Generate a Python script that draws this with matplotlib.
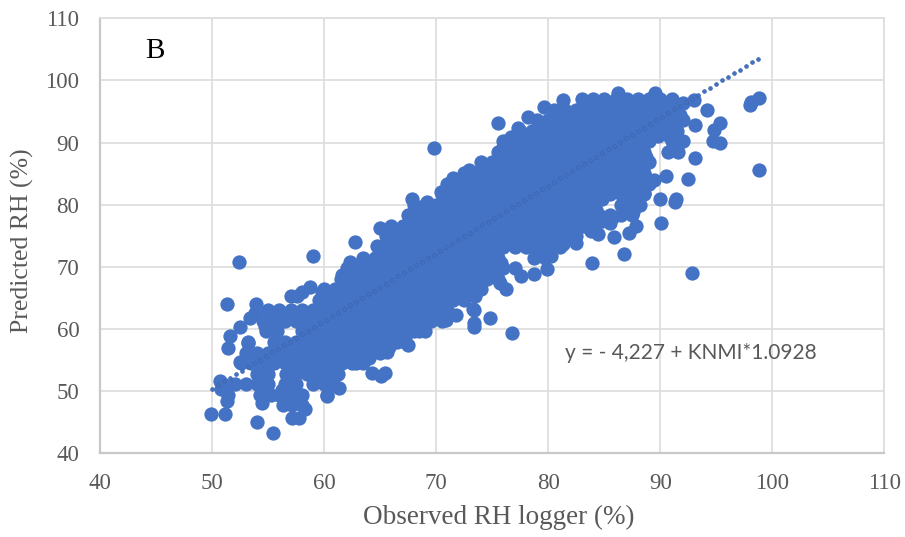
import numpy as np
import matplotlib
matplotlib.use("Agg")
import matplotlib.pyplot as plt

BLUE = "#4472C4"

x_ticks = [40, 50, 60, 70, 80, 90, 100, 110]
y_ticks = [40, 50, 60, 70, 80, 90, 100, 110]

row_pred = [97.0, 95.3, 93.6, 91.9, 90.2, 88.5, 86.8, 85.1, 83.4, 81.7, 80.0, 78.3, 76.6, 74.9, 73.2,
            71.5, 69.8, 68.1, 66.4, 64.7, 63.0, 61.3, 59.6, 57.9, 56.2, 54.5, 52.8, 51.1, 49.4, 47.7]
row_obs = [
    [83, 84, 85, 86, 87, 88, 89, 90, 91],
    [80.5, 81.5, 82.5, 83.5, 84.5, 85.5, 86.5, 87.5, 88.5, 89.5, 90.5, 91.5],
    [79, 80, 81, 82, 83, 84, 85, 86, 87, 88, 89, 90, 91, 92],
    [77.5, 78.5, 79.5, 80.5, 81.5, 82.5, 83.5, 84.5, 85.5, 86.5, 87.5, 88.5, 89.5, 90.5, 91.5],
    [76, 77, 78, 79, 80, 81, 82, 83, 84, 85, 86, 87, 88, 89, 91, 92],
    [75.5, 76.5, 77.5, 78.5, 79.5, 80.5, 81.5, 82.5, 83.5, 84.5, 85.5, 86.5, 87.5, 88.5, 90.7, 91.6],
    [74, 75, 76, 77, 78, 79, 80, 81, 82, 83, 84, 85, 86, 87, 88, 89],
    [72.5, 73.5, 74.5, 75.5, 76.5, 77.5, 78.5, 79.5, 80.5, 81.5, 82.5, 83.5, 84.5, 85.5, 86.5, 87.5, 88.5],
    [71, 72, 73, 74, 75, 76, 77, 78, 79, 80, 81, 82, 83, 84, 85, 86, 87, 88, 89],
    [70.5, 71.5, 72.5, 73.5, 74.5, 75.5, 76.5, 77.5, 78.5, 79.5, 80.5, 81.5, 82.5, 83.5, 84.5, 85.5, 86.5, 87.5, 88.5],
    [68, 69, 70, 71, 72, 73, 74, 75, 76, 77, 78, 79, 80, 81, 82, 83, 84, 86.5, 87.5, 88.2],
    [67.5, 68.5, 69.5, 70.5, 71.5, 72.5, 73.5, 74.5, 75.5, 76.5, 77.5, 78.5, 79.5, 80.5, 81.5, 82.5, 83.5, 84.5, 85.5, 86.5, 87.5],
    [66, 67, 68, 69, 70, 71, 72, 73, 74, 75, 76, 77, 78, 79, 80, 81, 82, 83, 84],
    [65.5, 66.5, 67.5, 68.5, 69.5, 70.5, 71.5, 72.5, 73.5, 74.5, 75.5, 76.5, 77.5, 78.5, 79.5, 80.5, 81.5, 82.5],
    [65, 66, 67, 68, 69, 70, 71, 72, 73, 74, 75, 76, 77, 78, 79, 80, 81],
    [63.5, 64.5, 65.5, 66.5, 67.5, 68.5, 69.5, 70.5, 71.5, 72.5, 73.5, 74.5, 75.5, 78.7, 79.7],
    [62, 63, 64, 65, 66, 67, 68, 69, 70, 71, 72, 73, 74, 75, 76, 77],
    [61.5, 62.5, 63.5, 64.5, 65.5, 66.5, 67.5, 68.5, 69.5, 70.5, 71.5, 72.5, 73.5, 74.5, 75.5],
    [60, 61, 62, 63, 64, 65, 66, 67, 68, 69, 70, 71, 72, 73, 74],
    [59.5, 60.5, 61.5, 62.5, 63.5, 64.5, 65.5, 66.5, 67.5, 68.5, 69.5, 70.5, 71.5, 72.5],
    [55, 56, 57, 58, 59, 60, 61, 62, 63, 64, 65, 66, 67, 68, 69, 70, 71],
    [54.5, 55.5, 56.5, 57.5, 58.5, 59.5, 60.5, 61.5, 62.5, 63.5, 64.5, 65.5, 66.5, 67.5, 68.5, 69.5, 70.5],
    [54.8, 55.8, 58, 59, 60, 61, 62, 63, 64, 65, 66, 67, 68, 69],
    [53.2, 55.5, 56.5, 57.5, 58.5, 59.5, 60.5, 61.5, 62.5, 63.5, 64.5, 65.5, 66.5, 67.2],
    [53, 54, 55, 56, 57, 58, 59, 60, 61, 62, 63, 64, 65],
    [52.6, 53.5, 54.5, 55.5, 56.5, 57.5, 58.5, 59.5, 60.5, 61.5, 62.5, 63.5],
    [54, 55, 56.6, 57.5, 58.5, 59.5, 60.5, 61.2],
    [51, 52, 53, 54, 55, 56.5, 57.5, 59, 60, 60.8],
    [51.4, 54.3, 55.2, 56, 57, 58, 60.2],
    [56.3, 57.1, 58],
]

mid_pred = [96.15, 94.45, 92.75, 91.05, 89.35, 87.65, 85.95, 84.25, 82.55, 80.85, 79.15, 77.45, 75.75,
            74.05, 72.35, 70.65, 68.95, 67.25, 65.55, 63.85, 62.15, 60.45, 58.75, 57.05, 55.35, 53.65,
            51.95, 50.25]
mid_obs = [
    [83.25, 84.25, 85.25, 86.25, 87.25, 88.25, 89.25, 90.25],
    [80.75, 81.75, 82.75, 83.75, 84.75, 85.75, 86.75, 87.75, 88.75, 89.75, 90.75, 91.75],
    [79.25, 80.25, 81.25, 82.25, 83.25, 84.25, 85.25, 86.25, 87.25, 88.25, 89.25, 90.25, 91.25],
    [77.75, 78.75, 79.75, 80.75, 81.75, 82.75, 83.75, 84.75, 85.75, 86.75, 87.75, 88.75, 89.75, 90.75],
    [76.25, 77.25, 78.25, 79.25, 80.25, 81.25, 82.25, 83.25, 84.25, 85.25, 86.25, 87.25, 88.25],
    [75.75, 76.75, 77.75, 78.75, 79.75, 80.75, 81.75, 82.75, 83.75, 84.75, 85.75, 86.75, 87.75, 88.75],
    [74.25, 75.25, 76.25, 77.25, 78.25, 79.25, 80.25, 81.25, 82.25, 83.25, 84.25, 85.25, 86.25, 87.25, 88.25],
    [72.75, 73.75, 74.75, 75.75, 76.75, 77.75, 78.75, 79.75, 80.75, 81.75, 82.75, 83.75, 84.75, 85.75, 86.75, 87.75, 88.75],
    [71.25, 72.25, 73.25, 74.25, 75.25, 76.25, 77.25, 78.25, 79.25, 80.25, 81.25, 82.25, 83.25, 84.25, 85.25, 86.25, 87.25, 88.25],
    [70.75, 71.75, 72.75, 73.75, 74.75, 75.75, 76.75, 77.75, 78.75, 79.75, 80.75, 81.75, 82.75, 83.75, 84.75, 86.75, 87.75],
    [68.25, 69.25, 70.25, 71.25, 72.25, 73.25, 74.25, 75.25, 76.25, 77.25, 78.25, 79.25, 80.25, 81.25, 82.25, 83.25, 84.25, 86.75],
    [67.75, 68.75, 69.75, 70.75, 71.75, 72.75, 73.75, 74.75, 75.75, 76.75, 77.75, 78.75, 79.75, 80.75, 81.75, 82.75, 83.75, 84.75],
    [66.25, 67.25, 68.25, 69.25, 70.25, 71.25, 72.25, 73.25, 74.25, 75.25, 76.25, 77.25, 78.25, 79.25, 80.25, 81.25, 82.25],
    [65.75, 66.75, 67.75, 68.75, 69.75, 70.75, 71.75, 72.75, 73.75, 74.75, 75.75, 76.75, 77.75, 78.75, 79.75, 80.75],
    [65.25, 66.25, 67.25, 68.25, 69.25, 70.25, 71.25, 72.25, 73.25, 74.25, 75.25, 79.25],
    [63.75, 64.75, 65.75, 66.75, 67.75, 68.75, 69.75, 70.75, 71.75, 72.75, 73.75, 74.75, 75.75],
    [62.25, 63.25, 64.25, 65.25, 66.25, 67.25, 68.25, 69.25, 70.25, 71.25, 72.25, 73.25, 74.25, 75.25],
    [61.75, 62.75, 63.75, 64.75, 65.75, 66.75, 67.75, 68.75, 69.75, 70.75, 71.75, 72.75, 73.75],
    [60.25, 61.25, 62.25, 63.25, 64.25, 65.25, 66.25, 67.25, 68.25, 69.25, 70.25, 71.25, 72.25],
    [59.75, 60.75, 61.75, 62.75, 63.75, 64.75, 65.75, 66.75, 67.75, 68.75, 69.75, 70.75],
    [55.25, 56.25, 57.25, 58.25, 59.25, 60.25, 61.25, 62.25, 63.25, 64.25, 65.25, 66.25, 67.25, 68.25, 69.25, 70.25],
    [54.75, 55.75, 58.75, 59.75, 60.75, 61.75, 62.75, 63.75, 64.75, 65.75, 66.75, 67.75, 68.75],
    [58.25, 59.25, 60.25, 61.25, 62.25, 63.25, 64.25, 65.25, 66.25, 67.25],
    [55.75, 56.75, 57.75, 58.75, 59.75, 60.75, 61.75, 62.75, 63.75, 64.75, 65.75],
    [53.25, 54.25, 55.25, 56.25, 57.25, 58.25, 59.25, 60.25, 61.25, 62.25, 63.25],
    [54.25, 57.25, 58.25, 59.25, 60.25],
    [54.25, 57.25, 59.75, 60.25],
    [56.25, 57.25],
]

out_obs = [52.4, 59.0, 62.7, 65.0, 51.3, 53.9, 49.85, 51.1, 51.3, 54.0, 55.4, 54.4, 57.7, 57.1, 58.3,
           60.2, 61.3, 60.8, 64.3, 65.1, 65.4, 65.6, 67.5, 68.5, 64.0, 62.8, 61.6, 64.1,
           50.7, 50.8, 51.4, 51.6, 52.5, 53.4, 53.8, 53.2, 52.5, 57.0, 57.6, 58.7, 58.0, 59.8, 60.7,
           62.3, 61.6, 64.7, 69.8, 75.5, 94.2, 93.0, 95.3, 94.8, 94.7, 95.3, 98.0, 98.1, 98.8, 98.8,
           93.1, 93.1, 90.5, 92.5, 90.0, 91.4, 91.3, 90.1, 87.8, 87.2, 85.9, 84.4, 83.8, 86.8, 83.9,
           92.8, 82.5, 81.3, 76.2, 75.7, 73.5, 73.3, 79.9, 78.7, 77.6, 80.0, 76.8, 73.4, 74.8, 73.4,
           73.4, 70.9, 71.8, 68.6, 81.3, 79.65, 78.2, 86.2, 89.5, 92.0, 72.9, 71.5, 70.4, 69.2, 67.8,
           77.3, 76.7, 75.9, 74.2, 89.4, 88.5, 87.6, 85.8, 85.5, 83.3, 80.2]
out_pred = [70.75, 71.8, 74.0, 76.2, 64.1, 64.1, 46.4, 46.4, 48.4, 45.0, 43.2, 48.1, 45.6, 45.6, 47.2,
            49.2, 50.5, 52.1, 53.0, 52.5, 53.0, 56.3, 57.5, 59.6, 55.4, 54.6, 54.6, 57.0,
            51.6, 50.3, 57.0, 58.8, 60.3, 61.8, 62.6, 57.8, 54.7, 65.3, 65.3, 66.8, 66.0, 66.0, 65.3,
            70.8, 68.7, 73.3, 89.1, 93.2, 95.3, 96.9, 93.2, 92.0, 90.2, 89.9, 96.0, 96.5, 97.1, 85.6,
            87.6, 92.8, 84.6, 84.1, 81.0, 81.0, 80.5, 77.0, 76.5, 75.4, 74.8, 75.3, 75.7, 72.1, 70.6,
            69.0, 73.8, 73.6, 66.5, 67.4, 65.3, 63.3, 69.6, 68.8, 68.5, 71.7, 59.4, 61.0, 61.7, 60.4,
            63.0, 61.5, 62.2, 59.8, 96.8, 95.7, 94.1, 97.9, 98.0, 96.3, 85.6, 84.3, 82.1, 80.5, 81.0,
            92.3, 90.9, 89.0, 86.4, 84.0, 81.9, 78.9, 78.0, 77.0, 76.5, 71.7]

trend_obs = [50.0, 98.7]
trend_pred = [50.4, 103.5]

W, H = 905, 537
fig = plt.figure(figsize=(W / 100, H / 100), dpi=100)
L, R, T, B = 100.3, 884.3, 18.3, 453.3
ax = fig.add_axes([L / W, 1 - B / H, (R - L) / W, (B - T) / H])

ax.set_xlim(40, 110)
ax.set_ylim(40, 110)
ax.set_xticks(x_ticks)
ax.set_yticks(y_ticks)
ax.grid(True, color="#DEDEDE", lw=1.3, zorder=0)
ax.set_axisbelow(True)
for side in ["top", "right"]:
    ax.spines[side].set_color("#DEDEDE")
    ax.spines[side].set_linewidth(1.3)
for side in ["left", "bottom"]:
    ax.spines[side].set_color("#C8C8C8")
    ax.spines[side].set_linewidth(1.6)

ax.tick_params(axis="both", length=0, labelsize=16.5, labelcolor="#595959",
               labelfontfamily="Liberation Serif")
ax.tick_params(axis="x", pad=14)
ax.tick_params(axis="y", pad=15)

all_x = [v for row in row_obs for v in row] + [v for row in mid_obs for v in row] + out_obs
all_y = ([y for y, row in zip(row_pred, row_obs) for _ in row]
         + [y for y, row in zip(mid_pred, mid_obs) for _ in row] + out_pred)
ax.scatter(all_x, all_y, s=106, c=BLUE, linewidths=0, zorder=3, clip_on=False)

# dotted trendline: evenly spaced dots between its two fitted end points
n_dots = 92
tx = np.linspace(trend_obs[0], trend_obs[1], n_dots)
ty = np.linspace(trend_pred[0], trend_pred[1], n_dots)
dots, = ax.plot(tx, ty, ls="none", marker="o", ms=2.7, mfc=BLUE, mec="#3A63AE", mew=0.5, zorder=4)
dots.set_snap(False)

ax.set_xlabel("Observed RH logger (%)", fontsize=19.5, family="Liberation Serif", color="#595959")
ax.xaxis.set_label_coords((499 - L) / (R - L), (B - 517) / (B - T), transform=ax.transAxes)
ax.xaxis.label.set_va("center")
ax.set_ylabel("Predicted RH (%)", fontsize=18.5, family="Liberation Serif", color="#595959")
ax.yaxis.set_label_coords((22 - L) / (R - L), (B - 241) / (B - T), transform=ax.transAxes)
ax.yaxis.label.set_va("center")

fig.text(155 / W, 1 - 51 / H, "B", fontsize=21, family="Liberation Serif", color="black", ha="center", va="center")
fig.text(565 / W, 1 - 353 / H, "y = - 4,227 + KNMI*1.0928", fontsize=15, family="Lato", color="#595959", ha="left", va="center")

fig.savefig("out.png", dpi=100, facecolor="white")
